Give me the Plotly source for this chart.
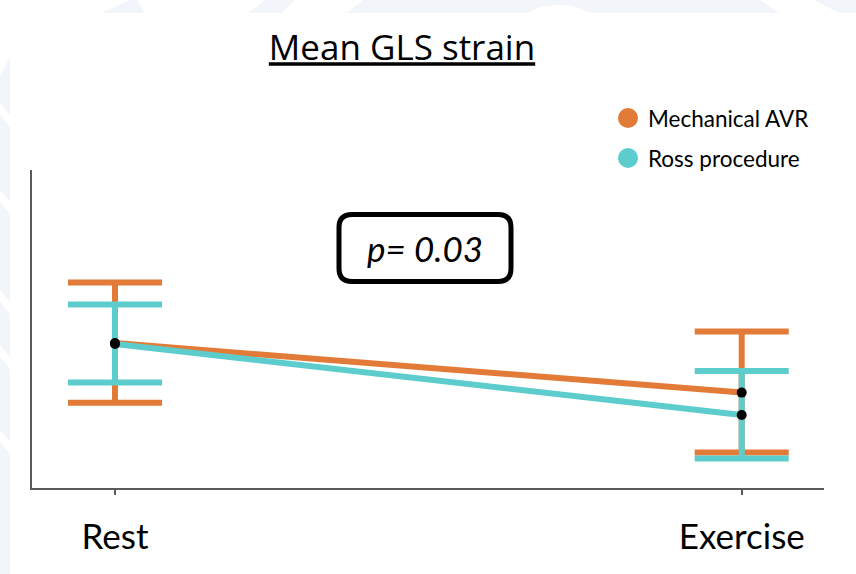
import plotly.graph_objects as go

categories = ["Rest", "Exercise"]

series_names = ["Mechanical AVR", "Ross procedure"]
series_colors = ["#E27B38", "#5CCDCC"]

mech_mean = [7.25, 4.77]
mech_err_plus = [3.03, 3.05]
mech_err_minus = [2.99, 3.0]

ross_mean = [7.2, 3.65]
ross_err_plus = [1.97, 2.2]
ross_err_minus = [1.93, 2.17]

p_text = "p= 0.03"
title_text = "Mean GLS strain"

means = [mech_mean, ross_mean]
plus = [mech_err_plus, ross_err_plus]
minus = [mech_err_minus, ross_err_minus]

FONT = "Lato"
W, H = 856, 574
ML, MR, MT, MB = 32, 32, 170, 86
WM = "#F2F5F9"  # faint background watermark colour

fig = go.Figure()
for name, col, m, ep, em in zip(series_names, series_colors, means, plus, minus):
    fig.add_trace(go.Scatter(
        x=categories, y=m, mode="lines", name=name,
        line=dict(color=col, width=6),
        error_y=dict(type="data", symmetric=False, array=ep, arrayminus=em,
                     color=col, thickness=6, width=47),
        showlegend=False, hoverinfo="skip",
    ))
for name, m in zip(series_names, means):
    fig.add_trace(go.Scatter(
        x=categories, y=m, mode="markers", name=name,
        marker=dict(color="black", size=10),
        showlegend=False, hoverinfo="skip",
    ))

pw = W - ML - MR
ph = H - MT - MB
def px2paper(x, y):
    return (x - ML) / pw, (H - MB - y) / ph

shapes = []
annotations = []

# faint watermark decoration (page background)
def poly(pts, color):
    xs = [px2paper(x, y) for x, y in pts]
    d = "M " + " L ".join(f"{a:.5f},{b:.5f}" for a, b in xs) + " Z"
    return dict(type="path", xref="paper", yref="paper", path=d, layer="below",
                fillcolor=color, line=dict(width=0))

shapes.append(poly([(0, 0), (856, 0), (856, 13), (0, 13)], WM))
for seg in [[(0, 0), (130, 0), (101, 13), (0, 13)],
            [(137, 0), (265, 0), (248, 13), (145, 13)],
            [(295, 0), (363, 0), (347, 13), (281, 13)],
            [(760, 0), (814, 0), (839, 13), (779, 13)]]:
    shapes.append(poly(seg, "white"))
cx0, cy0 = px2paper(522, 5)
cx1, cy1 = px2paper(595, 40)
shapes.append(dict(type="circle", xref="paper", yref="paper", layer="below",
                   x0=cx0, x1=cx1, y0=cy1, y1=cy0, fillcolor="white", line=dict(width=0)))
shapes.append(poly([(0, 57), (10, 57), (10, 574), (0, 574)], WM))
shapes.append(poly([(0, 57), (10, 57), (0, 75)], "white"))
for yb in [103, 190, 290, 345, 430]:
    shapes.append(poly([(0, yb), (10, yb + 12), (10, yb + 24), (0, yb + 12)], "white"))

# legend built from series names / colors
leg_y = [118, 158]
for name, col, ly in zip(series_names, series_colors, leg_y):
    cx, cy = px2paper(628, ly)
    shapes.append(dict(type="circle", xref="paper", yref="paper",
                       xsizemode="pixel", ysizemode="pixel",
                       xanchor=cx, yanchor=cy, x0=-10, x1=10, y0=-10, y1=10,
                       fillcolor=col, line=dict(width=0)))
    tx, ty = px2paper(646, ly)
    annotations.append(dict(text=name, xref="paper", yref="paper", x=tx, y=ty,
                            xanchor="left", yanchor="middle", showarrow=False,
                            font=dict(family=FONT, size=22.5, color="black")))

# p-value box (rounded)
bx, by = px2paper(425, 248)
hw, hh, r = 86, 33.5, 13
path = (f"M {-hw + r},{-hh} L {hw - r},{-hh} Q {hw},{-hh} {hw},{-hh + r} "
        f"L {hw},{hh - r} Q {hw},{hh} {hw - r},{hh} L {-hw + r},{hh} "
        f"Q {-hw},{hh} {-hw},{hh - r} L {-hw},{-hh + r} Q {-hw},{-hh} {-hw + r},{-hh} Z")
shapes.append(dict(type="path", xref="paper", yref="paper",
                   xsizemode="pixel", ysizemode="pixel",
                   xanchor=bx, yanchor=by, path=path,
                   fillcolor="white", line=dict(color="black", width=5)))
annotations.append(dict(text=p_text, xref="paper", yref="paper", x=bx, y=by,
                        xanchor="center", yanchor="middle", showarrow=False,
                        font=dict(family=FONT, size=35, color="black", style="italic")))

title_x, _ = px2paper(402, 0)

fig.update_layout(
    width=W, height=H,
    margin=dict(l=ML, r=MR, t=MT, b=MB),
    paper_bgcolor="white", plot_bgcolor="rgba(0,0,0,0)",
    title=dict(text=title_text, x=title_x, xref="paper", xanchor="center",
               y=1 - 48 / H, yref="container", yanchor="middle",
               font=dict(family="Open Sans", size=35, color="black", lineposition="under")),
    xaxis=dict(type="category", range=[-0.1324, 1.1313],
               showline=True, linecolor="#5a5a5a", linewidth=2,
               ticks="outside", ticklen=5, tickcolor="#5a5a5a", tickwidth=1.5,
               showgrid=False, zeroline=False,
               tickfont=dict(family=FONT, size=35, color="black"),
               ticklabelstandoff=12),
    yaxis=dict(range=[0, 15.9], showline=True, linecolor="#5a5a5a", linewidth=2,
               showticklabels=False, ticks="", showgrid=False, zeroline=False),
    shapes=shapes,
    annotations=annotations,
    showlegend=False,
)

fig.write_html("out.html")
